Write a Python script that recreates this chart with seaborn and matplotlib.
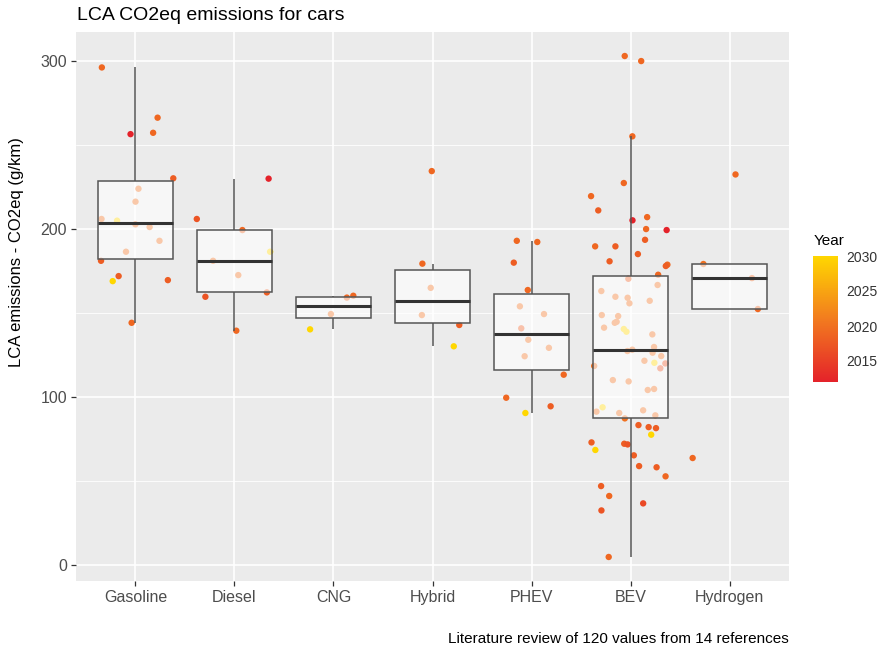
"""LCA CO2eq emissions for cars: boxplot + jittered points coloured by year."""
import matplotlib
matplotlib.use("Agg")
import matplotlib.pyplot as plt
import numpy as np
import pandas as pd
import seaborn as sns
from matplotlib.colors import LinearSegmentedColormap, Normalize
from matplotlib.cm import ScalarMappable
from matplotlib.ticker import MultipleLocator

# ---- data ------------------------------------------------------------------
CATEGORIES = ["Gasoline", "Diesel", "CNG", "Hybrid", "PHEV", "BEV", "Hydrogen"]

gasoline = [296.2, 266.3, 256.5, 257.3, 230.2, 224.0, 216.3, 206.0, 205.0,
            202.8, 201.2, 193.0, 186.5, 181.1, 172.0, 169.6, 169.0, 144.2]
gasoline_year = [2019, 2019, 2012, 2019, 2018, 2020, 2020, 2020, 2030,
                 2020, 2020, 2020, 2020, 2018, 2018, 2018, 2030, 2019]

diesel = [230.0, 206.0, 199.4, 186.5, 181.1, 172.6, 162.3, 159.7, 139.5]
diesel_year = [2012, 2017, 2019, 2030, 2020, 2020, 2018, 2017, 2019]

cng = [160.3, 159.2, 149.4, 140.3]
cng_year = [2019, 2019, 2020, 2030]

hybrid = [234.5, 179.4, 165.0, 148.8, 142.9, 130.2]
hybrid_year = [2019, 2019, 2020, 2020, 2018, 2030]

phev = [193.0, 192.3, 180.0, 163.7, 154.0, 149.4, 140.9, 134.1, 129.3,
        124.3, 113.3, 99.6, 94.5, 90.5]
phev_year = [2019, 2019, 2018, 2019, 2020, 2020, 2018, 2020, 2020,
             2020, 2019, 2019, 2018, 2030]

bev = [303.0, 300.0, 255.2, 227.4, 219.6, 211.1, 207.1, 205.2, 200.0, 199.4,
       193.6, 189.7, 189.7, 185.1, 180.8, 178.8, 178.0, 172.8, 170.4, 166.7,
       163.1, 159.7, 159.1, 157.3, 155.8, 148.8, 148.2, 144.8, 144.2, 141.3,
       140.5, 138.9, 137.3, 129.8, 128.2, 127.4, 126.4, 124.4, 121.6, 120.4,
       120.0, 118.5, 117.1, 110.1, 109.3, 104.8, 104.2, 93.9, 92.1, 91.3,
       90.5, 89.1, 87.3, 83.3, 82.1, 81.5, 77.6, 73.0, 72.2, 71.8,
       68.5, 65.3, 58.9, 58.2, 52.8, 47.0, 41.1, 36.7, 32.5, 4.8]
bev_year = [2019, 2019, 2019, 2019, 2019, 2018, 2019, 2012, 2019, 2012,
            2018, 2019, 2018, 2018, 2018, 2019, 2018, 2019, 2018, 2020,
            2020, 2020, 2020, 2020, 2020, 2020, 2020, 2020, 2020, 2020,
            2030, 2030, 2020, 2020, 2020, 2020, 2020, 2020, 2020, 2030,
            2017, 2020, 2017, 2020, 2020, 2020, 2020, 2030, 2020, 2020,
            2020, 2020, 2020, 2018, 2018, 2018, 2030, 2018, 2018, 2017,
            2030, 2018, 2018, 2018, 2019, 2018, 2019, 2016, 2017, 2019]

hydrogen = [232.5, 179.2, 170.8, 152.4, 63.7]
hydrogen_year = [2019, 2020, 2019, 2019, 2019]

YEAR_TICKS = [2015, 2020, 2025, 2030]
YEAR_RANGE = (2012, 2030)

values = [gasoline, diesel, cng, hybrid, phev, bev, hydrogen]
years = [gasoline_year, diesel_year, cng_year, hybrid_year, phev_year,
         bev_year, hydrogen_year]

df = pd.concat(
    [pd.DataFrame({"Type": cat, "Value": v, "Year": y})
     for cat, v, y in zip(CATEGORIES, values, years)],
    ignore_index=True,
)

# ---- style --------------------------------------------------------------
sns.set_style("darkgrid", {"axes.facecolor": "#EBEBEB", "grid.color": "white"})
plt.rcParams["font.family"] = ["Liberation Sans", "DejaVu Sans"]

cmap = LinearSegmentedColormap.from_list(
    "year", ["#E4222A", "#F27B1F", "#FFD700"])
norm = Normalize(*YEAR_RANGE)

fig = plt.figure(figsize=(8.82, 6.49), dpi=100)
ax = fig.add_axes([76 / 882, 1 - 581 / 649, 713 / 882, 549 / 649])
ax.set_facecolor("#EBEBEB")

np.random.seed(7)
sns.stripplot(data=df, x="Type", y="Value", hue="Year", order=CATEGORIES,
              palette=cmap, hue_norm=YEAR_RANGE, jitter=0.4, size=4.6,
              linewidth=0, legend=False, ax=ax, zorder=2)

sns.boxplot(data=df, x="Type", y="Value", order=CATEGORIES, width=0.75,
            showfliers=False, showcaps=False, color="white",
            linecolor="#555555", linewidth=1.1,
            medianprops=dict(color="#333333", linewidth=2.2),
            ax=ax)
for p in ax.patches:
    p.set_facecolor((1, 1, 1, 0.62))
    p.set_zorder(3)
for ln in ax.lines:
    ln.set_zorder(3.5)

ax.set_xlim(-0.6, 6.6)
ax.set_ylim(-9.5, 317.3)
ax.yaxis.set_major_locator(MultipleLocator(100))
ax.yaxis.set_minor_locator(MultipleLocator(50))
ax.grid(which="major", color="white", linewidth=1.2)
ax.grid(which="minor", axis="y", color="white", linewidth=0.6)
ax.set_axisbelow(True)
for s in ax.spines.values():
    s.set_visible(False)
ax.tick_params(axis="both", which="major", length=3.5, width=0.9,
               bottom=True, left=True,
               color="#333333", labelcolor="#4D4D4D", labelsize=11.5, pad=3)
ax.tick_params(axis="y", which="minor", length=0)
ax.set_xlabel("")
ax.set_ylabel("")

fig.text(77 / 882, 1 - 20 / 649, "LCA CO2eq emissions for cars",
         fontsize=14, ha="left", va="baseline", color="black")
fig.text(17 / 882, 1 - 252 / 649, "LCA emissions - CO2eq (g/km)",
         fontsize=12, rotation=90, ha="center", va="center", color="black")
fig.text(789 / 882, 1 - 643 / 649,
         "Literature review of 120 values from 14 references",
         fontsize=11, ha="right", va="baseline", color="black")

# ---- colourbar ------------------------------------------------------------
cax = fig.add_axes([813 / 882, 1 - 382 / 649, 25 / 882, 126 / 649])
sm = ScalarMappable(norm=norm, cmap=cmap)
cb = fig.colorbar(sm, cax=cax, ticks=YEAR_TICKS)
cb.outline.set_visible(False)
cax.tick_params(axis="y", which="major", left=True, right=True,
                direction="in", length=4, width=0.9, color="white",
                labelleft=False, labelright=True, labelsize=10,
                labelcolor="#333333", pad=6)
cax.tick_params(axis="y", which="minor", length=0)
fig.text(814 / 882, 1 - 245 / 649, "Year", fontsize=11, ha="left",
         va="baseline", color="black")

fig.savefig("out.png", dpi=100)
